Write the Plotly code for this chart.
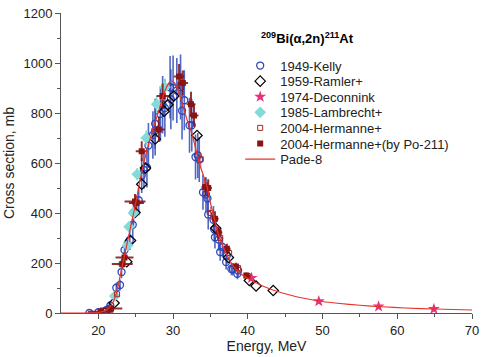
import plotly.graph_objects as go

# ---------------- data ----------------
kelly_e = [18.8, 20.0, 20.8, 21.1, 21.5, 21.6, 22.4, 22.9, 23.1, 23.5, 24.2, 24.6, 24.7, 25.4, 25.8,
           26.1, 26.5, 26.7, 27.3, 27.6, 27.6, 28.3, 28.6, 28.9, 29.6, 29.7, 30.0, 30.5, 31.0, 31.2,
           31.5, 32.2, 32.5, 33.0, 33.3, 33.5, 34.0, 34.4, 34.6, 34.7, 35.4, 35.5, 35.6, 36.1, 36.3,
           36.6, 37.1, 37.2, 37.8, 38.0, 38.6, 38.7]
kelly_s = [0, 3, 5, 12, 18, 30, 101, 112, 164, 252, 292, 353, 401, 451, 550,
           572, 582, 670, 712, 730, 757, 797, 833, 820, 903, 855, 900, 890, 904, 809,
           851, 751, 751, 624, 630, 614, 483, 474, 458, 394, 373, 335, 303, 294, 244,
           264, 204, 230, 176, 175, 157, 170]
kelly_err = [3, 4, 5, 8, 10, 12, 20, 22, 25, 35, 40, 50, 55, 60, 70,
             75, 80, 90, 95, 100, 100, 110, 115, 115, 125, 120, 130, 130, 130, 115,
             120, 110, 105, 90, 90, 90, 70, 70, 65, 60, 55, 50, 45, 45, 35,
             40, 30, 35, 25, 25, 22, 25]

ramler_e = [22.1, 23.8, 24.3, 24.9, 25.8, 26.3, 27.6, 28.8, 29.3, 30.1, 33.2, 35.7, 37.4, 40.2, 41.1, 43.4]
ramler_s = [40, 205, 290, 402, 515, 580, 696, 807, 833, 868, 710, 339, 222, 130, 108, 90]

decon_e = [40.5, 49.5, 57.5, 64.9]
decon_s = [140, 47, 26, 16]

lamb_e = [22.2, 23.2, 23.9, 24.1, 24.7, 25.2, 26.4, 27.8, 28.9]
lamb_s = [68, 195, 270, 345, 400, 555, 700, 835, 903]
lamb_xerr = [0.5, 0.5, 0.5, 0.5, 0.5, 0.5, 0.5, 0.5, 0.5]
lamb_yerr = [12, 15, 18, 20, 22, 25, 30, 35, 35]

herm_e = [21.0, 22.5, 33.7, 35.0, 36.3, 37.5, 38.7, 40.0]
herm_s = [10, 75, 615, 400, 300, 240, 180, 148]
herm_yerr = [5, 10, 30, 25, 20, 15, 12, 10]

hpo_e = [20.3, 21.7, 23.2, 23.5, 24.9, 25.1, 25.8, 28.1, 28.6, 30.8, 31.3, 32.4, 32.8, 34.3, 34.7,
         35.6, 36.1, 37.2, 38.4, 39.8]
hpo_s = [5, 18, 196, 222, 446, 440, 647, 734, 868, 946, 920, 835, 790, 504, 500,
         377, 322, 257, 186, 150]
hpo_xerr = [1.7, 1.5, 1.4, 1.2, 1.4, 1.0, 0.8, 0.8, 0.8, 0.7, 0.7, 0.6, 0.6, 0.5, 0.5,
            0.5, 0.5, 0.5, 0.4, 0.4]
hpo_yerr = [3, 5, 20, 20, 30, 30, 40, 50, 50, 50, 50, 50, 45, 35, 35, 30, 25, 20, 15, 12]

pade_e = [15, 18, 19, 20, 21, 22, 22.5, 23, 23.5, 24, 24.5, 25, 25.5, 26, 26.5, 27, 27.5, 28, 28.5,
          29, 29.5, 29.8, 30.2, 30.6, 31, 31.5, 32, 32.5, 33, 33.5, 34, 34.5, 35, 35.5, 36, 36.5,
          37, 37.5, 38, 38.5, 39, 40, 41, 42, 43, 44, 45, 46, 47, 48, 50, 52, 55, 58, 61, 65, 70]
pade_s = [0, 0, 0.5, 2, 10, 45, 90, 160, 230, 300, 370, 440, 520, 590, 650, 705, 755, 800, 850,
          895, 922, 928, 920, 895, 860, 810, 760, 720, 660, 600, 555, 510, 440, 380, 320, 280,
          245, 215, 190, 172, 158, 138, 122, 108, 96, 86, 77, 69, 62, 56, 46, 39, 31, 25, 20, 16, 12]

FONT = "Liberation Sans, Arial, sans-serif"

fig = go.Figure()

fig.add_trace(go.Scatter(
    x=kelly_e, y=kelly_s, mode="markers", name="1949-Kelly", legend="legend",
    marker=dict(symbol="circle-open", size=7, color="#2f47b5", line=dict(width=1.3)),
    error_y=dict(type="data", array=kelly_err, color="rgba(50,75,185,0.85)", thickness=1.6, width=0),
))
fig.add_trace(go.Scatter(
    x=ramler_e, y=ramler_s, mode="markers", name="1959-Ramler+", legend="legend2",
    marker=dict(symbol="diamond-open", size=8, color="black", line=dict(width=1.2)),
))
fig.add_trace(go.Scatter(
    x=decon_e, y=decon_s, mode="markers", name="1974-Deconnink", legend="legend3",
    marker=dict(symbol="star", size=9, color="#ea2f7c", line=dict(width=0)),
))
fig.add_trace(go.Scatter(
    x=lamb_e, y=lamb_s, mode="markers", name="1985-Lambrecht+", legend="legend4",
    marker=dict(symbol="diamond", size=9, color="#82dbd6", line=dict(width=0)),
    error_x=dict(type="data", array=lamb_xerr, color="#82dbd6", thickness=1.5, width=0),
    error_y=dict(type="data", array=lamb_yerr, color="#82dbd6", thickness=1.5, width=0),
))
fig.add_trace(go.Scatter(
    x=herm_e, y=herm_s, mode="markers", name="2004-Hermanne+", legend="legend5",
    marker=dict(symbol="square-open", size=5, color="#a3282a", line=dict(width=1)),
    error_y=dict(type="data", array=herm_yerr, color="rgba(180,40,40,0.6)", thickness=1, width=0),
))
fig.add_trace(go.Scatter(
    x=hpo_e, y=hpo_s, mode="markers", name="2004-Hermanne+(by Po-211)", legend="legend6",
    marker=dict(symbol="square", size=6, color="#8a1414", line=dict(width=0)),
    error_x=dict(type="data", array=hpo_xerr, color="rgba(130,15,15,0.85)", thickness=2, width=0),
    error_y=dict(type="data", array=hpo_yerr, color="rgba(130,15,15,0.85)", thickness=2, width=0),
))
fig.add_trace(go.Scatter(
    x=pade_e, y=pade_s, mode="lines", name="Pade-8", legend="legend7",
    line=dict(color="#e8352a", width=1.2, shape="spline", smoothing=0.8),
))

fig.add_annotation(
    text="<b><sup>209</sup>Bi(α,2n)<sup>211</sup>At</b>",
    xref="paper", yref="paper", x=0.482, y=0.951, xanchor="left", yanchor="top",
    showarrow=False, font=dict(family=FONT, size=13, color="black"),
)

axis_common = dict(
    showline=True, linecolor="#555", linewidth=1, ticks="outside", ticklen=5,
    tickcolor="#555", showgrid=False, zeroline=False, ticklabeloverflow="allow",
    tickfont=dict(family=FONT, size=13, color="#222"),
)

fig.update_xaxes(range=[15, 70], tickvals=[20, 30, 40, 50, 60, 70],
                 minor=dict(tickvals=[25, 35, 45, 55, 65], ticks="outside", ticklen=3, tickcolor="#555"),
                 title=dict(text="Energy, MeV", font=dict(family=FONT, size=14, color="#222"), standoff=4),
                 **axis_common)
fig.update_yaxes(range=[0, 1200], dtick=200,
                 minor=dict(dtick=100, ticks="outside", ticklen=3, tickcolor="#555"),
                 title=dict(text="Cross section, mb", font=dict(family=FONT, size=14, color="#222"), standoff=5),
                 **axis_common)

# one legend per series so the entries can sit closer than a single legend allows
legend_rows_px = [60, 76, 92, 108, 124, 140, 156]
legend_names = ["legend", "legend2", "legend3", "legend4", "legend5", "legend6", "legend7"]
plot_top, plot_bottom = 6, 314
legend_layout = {}
for name, py in zip(legend_names, legend_rows_px):
    legend_layout[name] = dict(
        x=0.436, y=(plot_bottom - py) / (plot_bottom - plot_top), xanchor="left", yanchor="middle",
        font=dict(family=FONT, size=13, color="#222"), bgcolor="rgba(0,0,0,0)",
        itemwidth=30, tracegroupgap=0,
    )

fig.update_layout(
    width=485, height=357,
    margin=dict(l=61, r=9, t=6, b=43),
    paper_bgcolor="white", plot_bgcolor="white",
    showlegend=True,
    **legend_layout,
)

fig.write_html("out.html", config={"displayModeBar": False},
               post_script="document.body.style.margin='0';")
